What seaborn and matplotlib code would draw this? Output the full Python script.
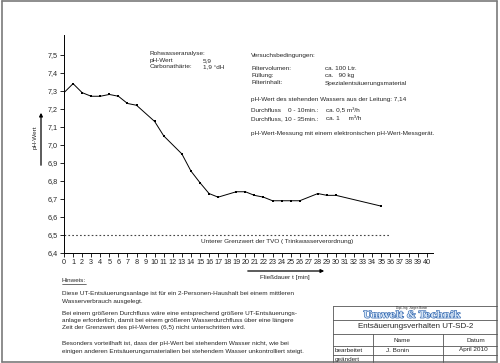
import matplotlib
matplotlib.use("Agg")
import matplotlib.pyplot as plt
import matplotlib.patheffects as pe
from matplotlib.lines import Line2D
import seaborn as sns

# Flow time [min] and measured pH values
fliessdauer = [0, 1, 2, 3, 4, 5, 6, 7, 8, 10, 11, 13, 14, 15, 16, 17, 19, 20,
               21, 22, 23, 24, 25, 26, 28, 29, 30, 35]
ph_wert = [7.29, 7.34, 7.29, 7.27, 7.27, 7.28, 7.27, 7.23, 7.22, 7.13, 7.05,
           6.95, 6.855, 6.79, 6.73, 6.71, 6.74, 6.74, 6.72, 6.71, 6.69, 6.69,
           6.69, 6.69, 6.73, 6.72, 6.72, 6.66]

grenzwert = 6.5
x_ticks = list(range(0, 41))
y_ticks = [6.4, 6.5, 6.6, 6.7, 6.8, 6.9, 7.0, 7.1, 7.2, 7.3, 7.4, 7.5]

sns.set_style("ticks")
plt.rcParams["font.family"] = ["Liberation Sans", "DejaVu Sans"]

W, H = 500, 363
fig = plt.figure(figsize=(5, 3.63), dpi=100)


def px(x):
    return x / W


def py(y):
    return 1 - y / H


ax = fig.add_axes([px(64), py(253), px(433) - px(64), py(35) - py(253)])
sns.lineplot(x=fliessdauer, y=ph_wert, ax=ax, color="black", linewidth=0.7,
             marker="s", markersize=1.8, markeredgewidth=0)
ax.axhline(grenzwert, xmin=0, xmax=35.9 / 40.7, color="#444444",
           linestyle=(0, (1.5, 2)), linewidth=0.8)

ax.set_xlim(0, 40.7)
ax.set_ylim(6.4, 7.61)
ax.set_xticks(x_ticks)
ax.set_xticklabels([str(t) for t in x_ticks], fontsize=5.2)
ax.set_yticks(y_ticks)
ax.set_yticklabels([f"{v:.1f}".replace(".", ",") for v in y_ticks], fontsize=5.2)
ax.tick_params(length=3, width=0.6, pad=1.5, color="black")
for s in ["top", "right"]:
    ax.spines[s].set_visible(False)
for s in ["left", "bottom"]:
    ax.spines[s].set_linewidth(0.7)
    ax.spines[s].set_color("black")
ax.set_facecolor("white")

ax.text(23.5, 6.465, "Unterer Grenzwert der TVO ( Trinkwasserverordnung)",
        fontsize=4.6, ha="center", va="center")

# axis labels with arrows
fig.text(px(35), py(137), "pH-Wert", rotation=90, fontsize=4.6,
         ha="center", va="center")
fig.add_artist(plt.Annotation("", xy=(px(41), py(110)), xytext=(px(41), py(168)),
                              xycoords="figure fraction",
                              arrowprops=dict(arrowstyle="-|>", lw=0.9,
                                              color="black", mutation_scale=5)))
fig.text(px(285), py(278), "Fließdauer t [min]", fontsize=4.6,
         ha="center", va="center")
fig.add_artist(plt.Annotation("", xy=(px(327), py(271)), xytext=(px(245), py(271)),
                              xycoords="figure fraction",
                              arrowprops=dict(arrowstyle="-|>", lw=0.9,
                                              color="black", mutation_scale=5)))

fs = 4.6
# Rohwasseranalyse
fig.text(px(150), py(54), "Rohwasseranalyse:", fontsize=fs, va="center")
fig.text(px(150), py(60.5), "pH-Wert", fontsize=fs, va="center")
fig.text(px(150), py(67), "Carbonathärte:", fontsize=fs, va="center")
fig.text(px(203), py(60.5), "5,9", fontsize=fs, va="center")
fig.text(px(203), py(67), "1,9 °dH", fontsize=fs, va="center")

# Versuchsbedingungen
fig.text(px(251), py(55), "Versuchsbedingungen:", fontsize=fs, va="center")
rows = [("Filtervolumen:", "ca. 100 Ltr.", 69), ("Füllung:", "ca.   90 kg", 76),
        ("Filterinhalt:", "Spezialentsäuerungsmaterial", 83)]
for a, b, y in rows:
    fig.text(px(251), py(y), a, fontsize=fs, va="center")
    fig.text(px(325), py(y), b, fontsize=fs, va="center")
fig.text(px(251), py(100), "pH-Wert des stehenden Wassers aus der Leitung: 7,14",
         fontsize=fs, va="center")
fig.text(px(251), py(111), "Durchfluss    0 - 10min.:", fontsize=fs, va="center")
fig.text(px(251), py(119), "Durchfluss, 10 - 35min.:", fontsize=fs, va="center")
fig.text(px(326), py(111), "ca. 0,5 m³/h", fontsize=fs, va="center")
fig.text(px(326), py(119), "ca. 1     m³/h", fontsize=fs, va="center")
fig.text(px(251), py(133), "pH-Wert-Messung mit einem elektronischen pH-Wert-Messgerät.",
         fontsize=fs, va="center")

# Hinweis
fig.text(px(62), py(280), "Hinweis:", fontsize=fs, va="center")
fig.add_artist(Line2D([px(62), px(86)], [py(283.5), py(283.5)], lw=0.4, color="black"))
hinweis = [
    ("Diese UT-Entsäuerungsanlage ist für ein 2-Personen-Haushalt bei einem mittleren", 293),
    ("Wasserverbrauch ausgelegt.", 301),
    ("Bei einem größeren Durchfluss wäre eine entsprechend größere UT-Entsäuerungs-", 313),
    ("anlage erforderlich, damit bei einem größeren Wasserdurchfluss über eine längere", 320.5),
    ("Zeit der Grenzwert des pH-Wertes (6,5) nicht unterschritten wird.", 328),
    ("Besonders vorteilhaft ist, dass der pH-Wert bei stehendem Wasser nicht, wie bei", 344),
    ("einigen anderen Entsäuerungsmaterialien bei stehendem Wasser unkontrolliert steigt.", 351.5),
]
for line, y in hinweis:
    fig.text(px(62), py(y), line, fontsize=fs, va="center")

# page frame
frame_c = "#7a7a7a"
for xs, ys in [([1.5, 497], [1, 1]), ([1.5, 1.5], [1, 362]),
               ([497, 497], [1, 362]), ([1.5, 497], [362, 362])]:
    fig.add_artist(Line2D([px(x) for x in xs], [py(y) for y in ys],
                          lw=1.2, color=frame_c))

# title block
tb = "#555555"
for y in [306, 320, 334, 345.5, 354.5]:
    fig.add_artist(Line2D([px(333), px(497)], [py(y), py(y)], lw=0.6, color=tb))
fig.add_artist(Line2D([px(333), px(333)], [py(306), py(362)], lw=0.6, color=tb))
for x in [373, 443]:
    fig.add_artist(Line2D([px(x), px(x)], [py(334), py(362)], lw=0.6, color=tb))

fig.text(px(412), py(308.2), "Dipl.-Ing. Jürgen Bonin", fontsize=2.2,
         ha="center", va="center")
fig.text(px(412), py(315.3), "Umwelt & Technik", fontsize=6.8,
         family="DejaVu Serif", weight="bold", color="#d6e6f7",
         ha="center", va="center",
         path_effects=[pe.withStroke(linewidth=0.8, foreground="#2d63ad")])
fig.text(px(416), py(327), "Entsäuerungsverhalten UT-SD-2", fontsize=5.8,
         ha="center", va="center")
fig.text(px(402), py(340), "Name", fontsize=fs, ha="center", va="center")
fig.text(px(476), py(340), "Datum", fontsize=fs, ha="center", va="center")
fig.text(px(335), py(350), "bearbeitet", fontsize=fs, va="center")
fig.text(px(397), py(350), "J. Bonin", fontsize=fs, ha="center", va="center")
fig.text(px(473), py(350), "April 2010", fontsize=fs, ha="center", va="center")
fig.text(px(335), py(359), "geändert", fontsize=fs, va="center")

fig.savefig("out.png", dpi=100, facecolor="white")
